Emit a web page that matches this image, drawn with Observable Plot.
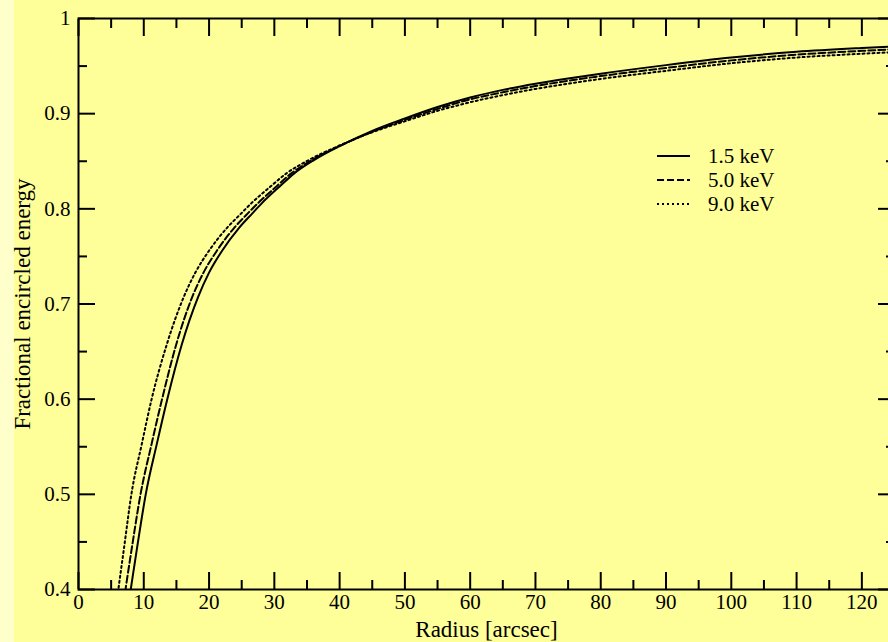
<!DOCTYPE html>
<html>
<head>
<meta charset="utf-8">
<script src="https://cdn.jsdelivr.net/npm/d3@7"></script>
<script src="https://cdn.jsdelivr.net/npm/@observablehq/plot@0.6"></script>
<style>
  html, body { margin: 0; padding: 0; background: #FFFF99; overflow: hidden; }
  #wrap { position: relative; width: 888px; height: 642px; overflow: hidden; background: #FFFF99; }
  #strip { position: absolute; left: 0; top: 0; width: 14px; height: 642px; background: #FFFFCC; }
  #chart { position: absolute; left: 0; top: 0; }
  #legend { position: absolute; left: 650px; top: 144px; font-family: "Liberation Serif", "Times New Roman", serif; font-size: 21px; color: #000; }
  .row { display: flex; align-items: center; height: 24px; }
  .row svg { width: 48px; height: 10px; margin-right: 10px; }
</style>
</head>
<body>
<div id="wrap">
  <div id="strip"></div>
  <div id="chart"></div>
  <div id="legend"></div>
</div>
<script>
// ---- data ----
const seriesNames = ["1.5 keV", "5.0 keV", "9.0 keV"];

const r15  = [7.0, 8.0, 9.0, 10.3, 12.0, 13.6, 15.8, 18.3, 20.0, 22.0, 24.6, 26.6, 28.1, 30.9, 33.0, 36.0, 40.0, 45.0, 50.0, 55.0, 60.0, 65.0, 70.0, 75.0, 80.0, 90.0, 100.0, 110.0, 120.0, 126.0];
const ee15 = [0.355, 0.400, 0.445, 0.500, 0.553, 0.600, 0.657, 0.707, 0.733, 0.756, 0.780, 0.795, 0.806, 0.824, 0.837, 0.851, 0.866, 0.882, 0.895, 0.907, 0.917, 0.925, 0.9315, 0.937, 0.942, 0.951, 0.959, 0.965, 0.969, 0.971];

const r50  = [6.25, 7.2, 8.2, 9.5, 11.2, 12.8, 14.95, 17.4, 19.15, 21.2, 23.85, 25.9, 27.5, 30.4, 32.55, 35.7, 40.0, 45.0, 50.0, 55.0, 60.0, 65.0, 70.0, 75.0, 80.0, 90.0, 100.0, 110.0, 120.0, 126.0];
const ee50 = [0.355, 0.400, 0.445, 0.500, 0.553, 0.600, 0.657, 0.707, 0.733, 0.756, 0.780, 0.795, 0.806, 0.824, 0.837, 0.851, 0.866, 0.881, 0.8935, 0.905, 0.915, 0.9225, 0.929, 0.9345, 0.9395, 0.948, 0.956, 0.962, 0.966, 0.968];

const r90  = [5.2, 6.1, 7.0, 8.1, 9.7, 11.2, 13.5, 16.1, 17.9, 20.0, 22.75, 24.9, 26.5, 29.5, 31.8, 35.2, 39.8, 45.0, 50.0, 55.0, 60.0, 65.0, 70.0, 75.0, 80.0, 90.0, 100.0, 110.0, 120.0, 126.0];
const ee90 = [0.355, 0.400, 0.445, 0.500, 0.553, 0.600, 0.657, 0.707, 0.733, 0.756, 0.780, 0.795, 0.806, 0.824, 0.837, 0.851, 0.866, 0.8805, 0.892, 0.903, 0.912, 0.9195, 0.926, 0.9315, 0.9365, 0.945, 0.953, 0.959, 0.963, 0.965];

const xTicks = [0, 10, 20, 30, 40, 50, 60, 70, 80, 90, 100, 110, 120];
const xMinorTicks = [5, 15, 25, 35, 45, 55, 65, 75, 85, 95, 105, 115, 125];
const yTicks = [0.4, 0.5, 0.6, 0.7, 0.8, 0.9, 1.0];
const yTickLabels = ["0.4", "0.5", "0.6", "0.7", "0.8", "0.9", "1"];
const yMinorTicks = [0.45, 0.55, 0.65, 0.75, 0.85, 0.95];
const xTitle = "Radius [arcsec]";
const yTitle = "Fractional encircled energy";

// ---- build table ----
const table = [];
[[r15, ee15], [r50, ee50], [r90, ee90]].forEach(([rs, es], i) => {
  rs.forEach((r, j) => table.push({series: seriesNames[i], r, ee: es[j]}));
});

const dashes = {"1.5 keV": null, "5.0 keV": "7,3", "9.0 keV": "2,3"};
const font = "'Liberation Serif', 'Times New Roman', serif";
const blank = () => "";

const marks = [
  Plot.frame({stroke: "#000", strokeWidth: 2}),
  // inward ticks, all four sides
  Plot.axisX(xTicks, {anchor: "bottom", tickSize: -17, strokeWidth: 2, tickFormat: blank, label: null}),
  Plot.axisX(xMinorTicks, {anchor: "bottom", tickSize: -9, strokeWidth: 2, tickFormat: blank, label: null}),
  Plot.axisX(xTicks, {anchor: "top", tickSize: -17, strokeWidth: 2, tickFormat: blank, label: null}),
  Plot.axisX(xMinorTicks, {anchor: "top", tickSize: -9, strokeWidth: 2, tickFormat: blank, label: null}),
  Plot.axisY(yTicks, {anchor: "left", tickSize: -17, strokeWidth: 2, tickFormat: blank, label: null}),
  Plot.axisY(yMinorTicks, {anchor: "left", tickSize: -9, strokeWidth: 2, tickFormat: blank, label: null}),
  Plot.axisY(yTicks, {anchor: "right", tickSize: -17, strokeWidth: 2, tickFormat: blank, label: null}),
  Plot.axisY(yMinorTicks, {anchor: "right", tickSize: -9, strokeWidth: 2, tickFormat: blank, label: null}),
  // tick labels
  Plot.axisX(xTicks, {anchor: "bottom", tickSize: 0, tickPadding: 5, fontSize: 21, fill: "#000", label: null}),
  Plot.axisY(yTicks, {anchor: "left", tickSize: 0, tickPadding: 8, fontSize: 21, fill: "#000",
    tickFormat: d => yTickLabels[yTicks.indexOf(d)], label: null}),
  // axis titles
  Plot.axisX([], {anchor: "bottom", tickSize: 0, fontSize: 23, fill: "#000",
    label: xTitle, labelAnchor: "center", labelOffset: 47, labelArrow: false}),
  Plot.axisY([], {anchor: "left", tickSize: 0, fontSize: 23, fill: "#000",
    label: yTitle, labelAnchor: "center", labelOffset: 65, labelArrow: false}),
  // curves
  ...seriesNames.map(name => Plot.line(table.filter(d => d.series === name), {
    x: "r", y: "ee", curve: "monotone-x", stroke: "#000", strokeWidth: 2,
    strokeDasharray: dashes[name], clip: true
  }))
];

const chart = Plot.plot({
  width: 900,
  height: 642,
  marginLeft: 78,
  marginRight: 6,
  marginTop: 18,
  marginBottom: 53,
  style: {background: "transparent", maxWidth: "none", fontFamily: font, color: "#000", overflow: "visible"},
  x: {domain: [0, 125]},
  y: {domain: [0.4, 1]},
  marks
});
document.getElementById("chart").appendChild(chart);

// legend
const legend = document.getElementById("legend");
seriesNames.forEach(name => {
  const row = document.createElement("div");
  row.className = "row";
  const dash = dashes[name] ? ` stroke-dasharray="${dashes[name]}"` : "";
  row.innerHTML = `<svg viewBox="0 0 48 10"><line x1="7" y1="5" x2="40" y2="5" stroke="#000" stroke-width="2"${dash}/></svg><span>${name}</span>`;
  legend.appendChild(row);
});
</script>
</body>
</html>
